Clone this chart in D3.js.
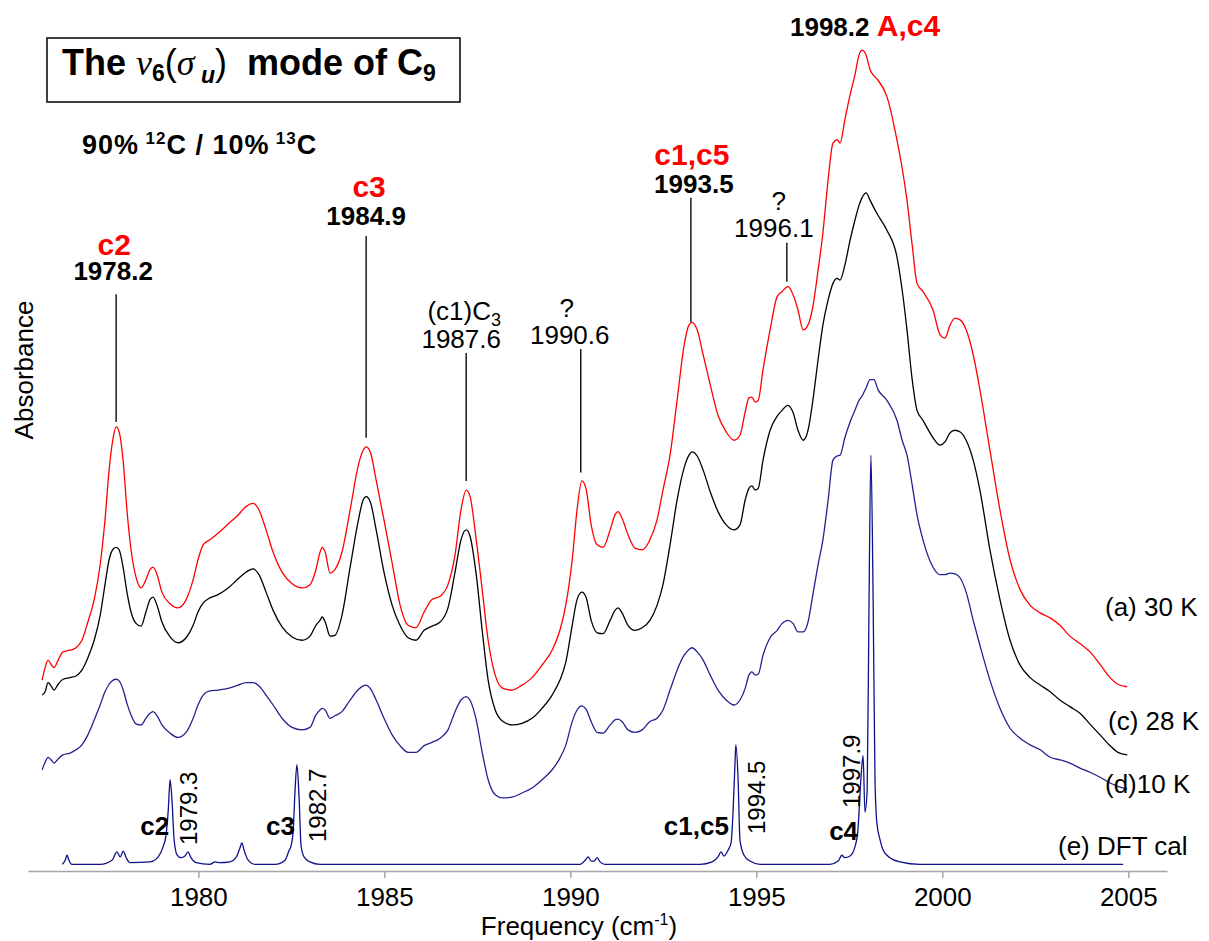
<!DOCTYPE html>
<html>
<head>
<meta charset="utf-8">
<script src="https://cdn.jsdelivr.net/npm/d3@7"></script>
<style>
    body { margin: 0; background: #fff; }
    svg { display: block; font-family: "Liberation Sans", Arial, sans-serif; }
</style>
</head>
<body>
<svg id="chart" width="1209" height="941"></svg>
<script>
/**
 * Data: shared frequency grid (cm-1) for the three measured spectra.
 */
const freq = [
    1975.80, 1975.88, 1975.96, 1976.04, 1976.12, 1976.23, 1976.36, 1976.55, 1976.71, 1976.87,
    1977.03, 1977.20, 1977.36, 1977.49, 1977.60, 1977.71, 1977.79, 1977.87, 1977.98, 1978.08,
    1978.19, 1978.33, 1978.46, 1978.59, 1978.70, 1978.78, 1978.89, 1979.02, 1979.24, 1979.45,
    1979.67, 1979.86, 1979.99, 1980.13, 1980.31, 1980.53, 1980.80, 1981.07, 1981.28, 1981.47,
    1981.63, 1981.82, 1982.01, 1982.25, 1982.52, 1982.79, 1983.00, 1983.16, 1983.27, 1983.33,
    1983.41, 1983.54, 1983.67, 1983.86, 1984.08, 1984.29, 1984.43, 1984.51, 1984.62, 1984.78,
    1984.99, 1985.21, 1985.42, 1985.64, 1985.85, 1986.07, 1986.28, 1986.50, 1986.71, 1986.90,
    1987.06, 1987.20, 1987.30, 1987.47, 1987.63, 1987.79, 1987.98, 1988.19, 1988.43, 1988.70,
    1988.97, 1989.24, 1989.51, 1989.72, 1989.88, 1990.05, 1990.18, 1990.31, 1990.42, 1990.56,
    1990.72, 1990.88, 1991.07, 1991.20, 1991.28, 1991.39, 1991.55, 1991.74, 1991.93, 1992.14,
    1992.33, 1992.49, 1992.68, 1992.87, 1993.06, 1993.19, 1993.27, 1993.41, 1993.57, 1993.76,
    1993.97, 1994.19, 1994.40, 1994.56, 1994.70, 1994.80, 1994.88, 1994.97, 1995.05, 1995.18,
    1995.37, 1995.56, 1995.69, 1995.85, 1995.99, 1996.12, 1996.26, 1996.39, 1996.52, 1996.66,
    1996.79, 1996.93, 1997.06, 1997.17, 1997.25, 1997.38, 1997.52, 1997.65, 1997.76, 1997.84,
    1997.95, 1998.06, 1998.16, 1998.27, 1998.51, 1998.78, 1998.92, 1999.05, 1999.19, 1999.32,
    1999.48, 1999.75, 1999.94, 2000.07, 2000.21, 2000.34, 2000.48, 2000.64, 2000.83, 2001.01,
    2001.28, 2001.55, 2001.82, 2002.09, 2002.36, 2002.63, 2002.90, 2003.16, 2003.43, 2003.70,
    2003.97, 2004.24, 2004.51, 2004.72, 2004.97
];

// (a) 30 K, offset absorbance
const abs30K = [
    .230, .245, .254, .249, .245, .254, .264, .266, .269, .278,
    .300, .327, .369, .423, .483, .522, .535, .529, .493, .435,
    .387, .353, .341, .351, .363, .366, .357, .336, .322, .317,
    .327, .351, .375, .393, .399, .407, .418, .429, .439, .443,
    .435, .411, .384, .360, .346, .341, .345, .363, .384, .390,
    .384, .359, .363, .384, .435, .487, .507, .511, .505, .471,
    .423, .371, .321, .296, .293, .312, .327, .331, .345, .381,
    .435, .459, .452, .399, .339, .278, .236, .220, .218, .224,
    .233, .248, .266, .290, .321, .375, .435, .470, .461, .417,
    .393, .390, .411, .429, .433, .425, .405, .389, .387, .399,
    .423, .459, .501, .567, .634, .658, .661, .652, .622, .586,
    .549, .529, .519, .525, .553, .570, .571, .565, .567, .604,
    .652, .692, .698, .704, .694, .676, .652, .658, .680, .724,
    .769, .833, .877, .881, .877, .905, .935, .959, .983, .989,
    .983, .965, .958, .953, .933, .881, .847, .808, .754, .708,
    .698, .676, .646, .642, .658, .666, .664, .652, .622, .580,
    .507, .435, .375, .339, .320, .311, .305, .296, .283, .274,
    .264, .249, .233, .225, .222
];

// (c) 28 K
const abs28K = [
    .212, .216, .227, .223, .218, .225, .231, .233, .235, .242,
    .257, .278, .308, .345, .375, .388, .390, .387, .365, .336,
    .312, .298, .295, .312, .327, .330, .320, .300, .282, .275,
    .281, .296, .312, .323, .329, .333, .341, .352, .360, .364,
    .357, .336, .314, .294, .282, .278, .283, .296, .302, .306,
    .300, .283, .284, .308, .366, .420, .447, .451, .445, .411,
    .360, .320, .296, .281, .278, .290, .295, .300, .317, .360,
    .399, .411, .404, .357, .290, .230, .194, .180, .176, .178,
    .184, .196, .212, .230, .252, .296, .327, .336, .330, .302,
    .287, .286, .302, .314, .317, .311, .296, .290, .293, .302,
    .320, .345, .393, .447, .486, .501, .505, .500, .483, .457,
    .433, .417, .411, .417, .447, .461, .464, .459, .461, .495,
    .531, .548, .555, .561, .552, .531, .519, .531, .567, .616,
    .658, .688, .708, .714, .712, .730, .760, .784, .802, .811,
    .817, .808, .799, .790, .772, .740, .700, .652, .592, .555,
    .543, .522, .513, .517, .528, .531, .529, .519, .495, .459,
    .387, .327, .278, .248, .233, .224, .216, .206, .198, .190,
    .177, .164, .151, .143, .140
];

// (d) 10 K
const abs10K = [
    .122, .131, .137, .134, .130, .135, .140, .142, .146, .152,
    .164, .182, .200, .216, .225, .230, .231, .229, .218, .202,
    .188, .177, .176, .184, .190, .192, .187, .176, .166, .161,
    .167, .184, .200, .212, .217, .218, .220, .224, .227, .227,
    .223, .212, .200, .184, .173, .170, .173, .188, .194, .196,
    .194, .184, .187, .192, .206, .218, .223, .224, .220, .206,
    .184, .164, .151, .143, .143, .151, .155, .160, .170, .192,
    .206, .210, .206, .182, .143, .110, .092, .088, .089, .094,
    .100, .110, .122, .136, .152, .180, .194, .199, .195, .180,
    .167, .166, .176, .182, .183, .180, .170, .167, .170, .180,
    .184, .194, .218, .242, .260, .267, .269, .264, .254, .236,
    .218, .206, .200, .206, .220, .236, .240, .236, .237, .260,
    .281, .290, .298, .302, .298, .288, .288, .300, .333, .369,
    .399, .447, .495, .500, .501, .522, .541, .555, .567, .572,
    .582, .592, .592, .580, .567, .543, .519, .501, .465, .429,
    .399, .366, .357, .357, .359, .358, .353, .336, .302, .272,
    .230, .196, .172, .160, .152, .146, .137, .134, .130, .124,
    .119, .113, .106, .102, .099
];

// (e) DFT calculated spectrum
const freqDFT = [
    1976.34, 1976.42, 1976.47, 1976.52, 1976.60, 1977.36, 1977.68, 1977.81, 1977.90, 1977.98,
    1978.06, 1978.16, 1978.70, 1978.92, 1979.05, 1979.13, 1979.19, 1979.24, 1979.29, 1979.35,
    1979.43, 1979.53, 1979.64, 1979.72, 1979.80, 1979.94, 1980.31, 1980.45, 1980.58, 1980.85,
    1981.01, 1981.12, 1981.17, 1981.23, 1981.34, 1981.52, 1982.06, 1982.33, 1982.44, 1982.49,
    1982.55, 1982.60, 1982.65, 1982.71, 1982.76, 1982.84, 1983.00, 1983.27, 1990.26, 1990.40,
    1990.48, 1990.56, 1990.64, 1990.72, 1990.80, 1990.93, 1993.49, 1993.81, 1993.97, 1994.05,
    1994.13, 1994.24, 1994.32, 1994.37, 1994.43, 1994.45, 1994.51, 1994.56, 1994.67, 1994.83,
    1995.10, 1996.98, 1997.20, 1997.30, 1997.38, 1997.52, 1997.65, 1997.73, 1997.81, 1997.87,
    1997.92, 1997.98, 1998.03, 1998.08, 1998.14, 1998.19, 1998.24, 1998.33, 1998.41, 1998.59,
    1998.86, 1999.40, 2004.86
];
const absDFT = [
    .008, .013, .019, .013, .008, .008, .013, .023, .017, .024,
    .016, .010, .011, .017, .029, .043, .073, .110, .086, .037,
    .019, .016, .018, .023, .016, .010, .008, .011, .010, .011,
    .016, .028, .034, .025, .013, .008, .008, .013, .025, .030,
    .049, .098, .128, .086, .031, .017, .011, .008, .008, .013,
    .017, .012, .012, .016, .011, .008, .008, .011, .017, .023,
    .018, .025, .034, .067, .134, .152, .110, .037, .019, .012,
    .008, .008, .012, .019, .016, .018, .029, .049, .110, .139,
    .071, .098, .327, .501, .327, .110, .058, .037, .025, .016,
    .011, .008, .008
];

const xTicks = [1980, 1985, 1990, 1995, 2000, 2005];

// Assigned experimental bands
const peakFreq = [1977.79, 1984.51, 1987.20, 1990.28, 1993.24, 1995.82];
const peakText = ['1978.2', '1984.9', '1987.6', '1990.6', '1993.5', '1996.1'];
const peakName = ['c2', 'c3', '(c1)C_3', '?', 'c1,c5', '?'];
const peakAssigned = [true, true, false, false, true, false];
const leaderTop = [.695, .765, .624, .629, .811, .757];
const leaderBottom = [.541, .522, .470, .480, .661, .710];

// DFT band labels
const dftFreq = [1979.24, 1982.65, 1994.45, 1997.87];
const dftText = ['1979.3', '1982.7', '1994.5', '1997.9'];
const dftName = ['c2', 'c3', 'c1,c5', 'c4'];

/**
 * Visual configs.
 */
const visWidth = 1209, visHeight = 941;
const plot = { left: 28, right: 1167, top: 41, bottom: 871 };
const sans = '"Liberation Sans", Arial, sans-serif',
    serif = '"Liberation Serif", "Times New Roman", serif';

const traces = [
    { values: abs30K, color: '#ff0000', label: '(a) 30 K', lx: 1105, ly: 616 },
    { values: abs28K, color: '#000000', label: '(c) 28 K', lx: 1108, ly: 730 },
    { values: abs10K, color: '#23238f', label: '(d)10 K', lx: 1105, ly: 793 }
];

// label placement relative to each leader line top (px)
const numDy = [-14, -11, -5, -5, -5, -6],
    nameDy = [-39, -39, -33, -32, -33, -33],
    numDx = [-3, 0, -5, -11, 3, -13],
    nameDx = [-2, 3, -2, -14, 1, -8];

// DFT label placement relative to peak (px)
const dftNameDx = [-1, -2, -7, -5],
    dftNameY = [835, 835, 835, 840],
    dftTextDx = [27, 29, 29, -3],
    dftTextY = [845, 842, 834, 808];

/**
 * D3.
 */
const svg = d3.select('#chart');

const xScale = d3.scaleLinear().domain([1975.42, 2006.04]).range([plot.left, plot.right]),
    yScale = d3.scaleLinear().domain([0, 1]).range([plot.bottom, plot.top]);

const line = d3.line()
    .x(d => xScale(d[0]))
    .y(d => yScale(d[1]))
    .curve(d3.curveMonotoneX);

/**
 * Axis.
 */
const xAxis = d3.axisBottom(xScale)
    .tickValues(xTicks)
    .tickFormat(d3.format('d'))
    .tickSizeInner(7)
    .tickSizeOuter(0)
    .tickPadding(10);

const axisG = svg.append('g')
    .attr('transform', 'translate(0,' + plot.bottom + ')')
    .call(xAxis)
    .attr('font-family', sans)
    .attr('font-size', 26);
axisG.select('.domain').attr('stroke', '#a6a6a6').attr('stroke-width', 1.5);
axisG.selectAll('.tick line').attr('stroke', '#a6a6a6').attr('stroke-width', 1.5);
axisG.selectAll('.tick text').attr('fill', '#000');

const xTitle = svg.append('text')
    .attr('x', 579).attr('y', 935)
    .attr('text-anchor', 'middle')
    .attr('font-size', 26);
xTitle.append('tspan').text('Frequency (cm');
xTitle.append('tspan').attr('font-size', 16).attr('dy', -10).text('-1');
xTitle.append('tspan').attr('dy', 10).text(')');

svg.append('text')
    .attr('transform', 'translate(33,370) rotate(-90)')
    .attr('text-anchor', 'middle')
    .attr('font-size', 26)
    .text('Absorbance');

/**
 * Spectra.
 */
const traceG = svg.append('g').attr('class', 'traces');

traces.forEach(t => {
    traceG.append('path')
        .datum(d3.zip(freq, t.values))
        .attr('fill', 'none')
        .attr('stroke', t.color)
        .attr('stroke-width', 1.3)
        .attr('d', line);
});

traceG.append('path')
    .datum(d3.zip(freqDFT, absDFT))
    .attr('fill', 'none')
    .attr('stroke', '#10108a')
    .attr('stroke-width', 1.3)
    .attr('d', line);

// trace labels
traces.forEach(t => {
    svg.append('text').attr('x', t.lx).attr('y', t.ly).attr('font-size', 26).text(t.label);
});
svg.append('text').attr('x', 1058).attr('y', 855).attr('font-size', 26).text('(e) DFT cal');

/**
 * Peak annotations.
 */
const annG = svg.append('g').attr('class', 'annotations');

peakFreq.forEach((f, i) => {
    const px = xScale(f),
        top = yScale(leaderTop[i]);

    annG.append('line')
        .attr('x1', px).attr('x2', px)
        .attr('y1', top).attr('y2', yScale(leaderBottom[i]))
        .attr('stroke', '#1a1a1a')
        .attr('stroke-width', 1.5);

    annG.append('text')
        .attr('x', px + numDx[i]).attr('y', top + numDy[i])
        .attr('text-anchor', 'middle')
        .attr('font-size', 26)
        .attr('font-weight', peakAssigned[i] ? 'bold' : 'normal')
        .text(peakText[i]);

    const name = annG.append('text')
        .attr('x', px + nameDx[i]).attr('y', top + nameDy[i])
        .attr('text-anchor', 'middle')
        .attr('font-size', peakAssigned[i] ? 30 : 26)
        .attr('font-weight', peakAssigned[i] ? 'bold' : 'normal')
        .attr('fill', peakAssigned[i] ? '#ff0000' : '#000');
    const parts = peakName[i].split('_');
    name.append('tspan').text(parts[0]);
    if (parts[1]) name.append('tspan').attr('font-size', 18).attr('dy', 6).text(parts[1]);
});

// main band label above the strongest peak
const mainLabel = annG.append('text')
    .attr('x', xScale(1997.84) - 72).attr('y', 36)
    .attr('font-weight', 'bold');
mainLabel.append('tspan').attr('font-size', 26).text('1998.2 ');
mainLabel.append('tspan').attr('font-size', 30).attr('fill', '#ff0000').text('A,c4');

// DFT labels
dftFreq.forEach((f, i) => {
    const px = xScale(f);
    annG.append('text')
        .attr('x', px + dftNameDx[i]).attr('y', dftNameY[i])
        .attr('text-anchor', 'end')
        .attr('font-size', 26)
        .attr('font-weight', 'bold')
        .text(dftName[i]);
    annG.append('text')
        .attr('transform', 'translate(' + (px + dftTextDx[i]) + ',' + dftTextY[i] + ') rotate(-90)')
        .attr('font-size', 24)
        .text(dftText[i]);
});

/**
 * Title box.
 */
svg.append('rect')
    .attr('x', 47).attr('y', 38)
    .attr('width', 413).attr('height', 64)
    .attr('fill', 'none')
    .attr('stroke', '#000')
    .attr('stroke-width', 1.5);

const title = svg.append('text')
    .attr('x', 62).attr('y', 75)
    .attr('font-size', 36)
    .attr('font-weight', 'bold');
title.append('tspan').text('The ');
title.append('tspan').attr('font-family', serif).attr('font-style', 'italic').attr('font-weight', 'normal').text('\u03bd');
title.append('tspan').attr('font-size', 23).attr('dy', 6).text('6');
title.append('tspan').attr('dy', -6).attr('font-weight', 'normal').text('(');
title.append('tspan').attr('font-family', serif).attr('font-style', 'italic').attr('font-weight', 'normal').text('\u03c3');
title.append('tspan').attr('font-size', 23).attr('font-style', 'italic').attr('dy', 8).text('\u00a0u');
title.append('tspan').attr('dy', -8).attr('font-weight', 'normal').text(')');
title.append('tspan').text('\u00a0 mode of C');
title.append('tspan').attr('font-size', 23).attr('dy', 6).text('9');

const subtitle = svg.append('text')
    .attr('x', 82).attr('y', 154)
    .attr('font-size', 27)
    .attr('letter-spacing', 1)
    .attr('font-weight', 'bold');
subtitle.append('tspan').text('90%\u2009');
subtitle.append('tspan').attr('font-size', 17).attr('dy', -10).text('12');
subtitle.append('tspan').attr('dy', 10).text('C / 10%\u2009');
subtitle.append('tspan').attr('font-size', 17).attr('dy', -10).text('13');
subtitle.append('tspan').attr('dy', 10).text('C');
</script>
</body>
</html>
